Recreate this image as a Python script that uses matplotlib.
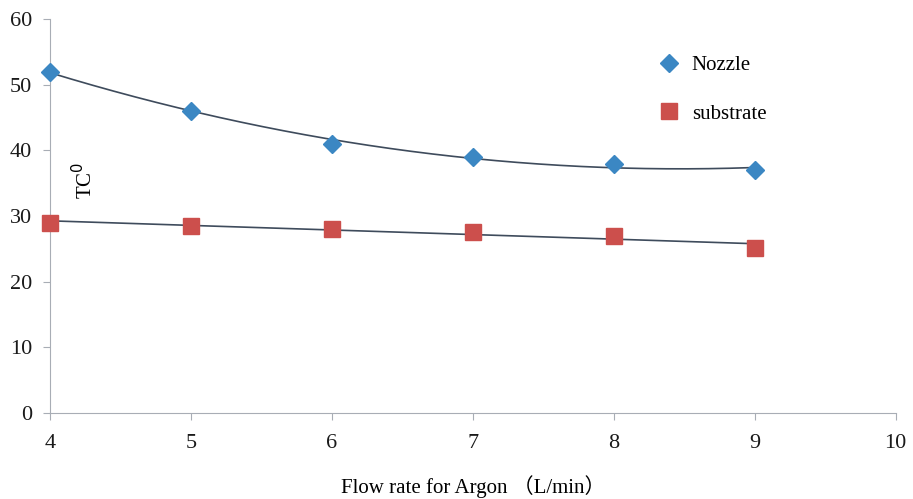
import numpy as np
import matplotlib
matplotlib.use('Agg')
from matplotlib import pyplot as plt

flow = [4, 5, 6, 7, 8, 9]
nozzle = [52, 46, 41, 39, 38, 37]
substrate = [29, 28.5, 28, 27.6, 27, 25.1]

plt.rcParams['font.family'] = ['Liberation Serif', 'Noto Sans CJK SC']

fig = plt.figure(figsize=(9.13, 4.99), dpi=100)
ax = fig.add_axes([0.0548, 0.172, 0.9262, 0.79])

# trend lines: 2nd order for nozzle, linear for substrate
xs = np.linspace(flow[0], flow[-1], 200)
for ys, deg in ((nozzle, 2), (substrate, 1)):
    c = np.polyfit(flow, ys, deg)
    ax.plot(xs, np.polyval(c, xs), color='#3e4b5c', lw=1.2, zorder=2)

ax.plot(flow, nozzle, 'D', color='#3b87c3', ms=9, ls='none', label='Nozzle',
        zorder=3, clip_on=False)
ax.plot(flow, substrate, 's', color='#cc4f4c', ms=11, ls='none', label='substrate',
        zorder=3, clip_on=False)

ax.set_xlim(4, 10)
ax.set_ylim(0, 60)
ax.set_xticks(range(4, 11))
ax.set_yticks(range(0, 61, 10))
for s in ('top', 'right'):
    ax.spines[s].set_visible(False)
for s in ('left', 'bottom'):
    ax.spines[s].set_color('#a8adb5')
ax.tick_params(colors='#a8adb5', labelcolor='#1a1a1a', labelsize=16, length=5, direction='out')
ax.tick_params(axis='x', pad=10)
ax.tick_params(axis='y', pad=8)

ax.text(0.041, 0.59, 'TC$^0$', transform=ax.transAxes, rotation=90, fontsize=15,
        ha='center', va='center')
ax.set_xlabel('Flow rate for Argon （L/min）', fontsize=15, labelpad=16)

ax.legend(loc='upper left', bbox_to_anchor=(0.685, 0.955), frameon=False, fontsize=15,
          labelspacing=1.4, handletextpad=0.1)

plt.savefig('out.png', dpi=100)
